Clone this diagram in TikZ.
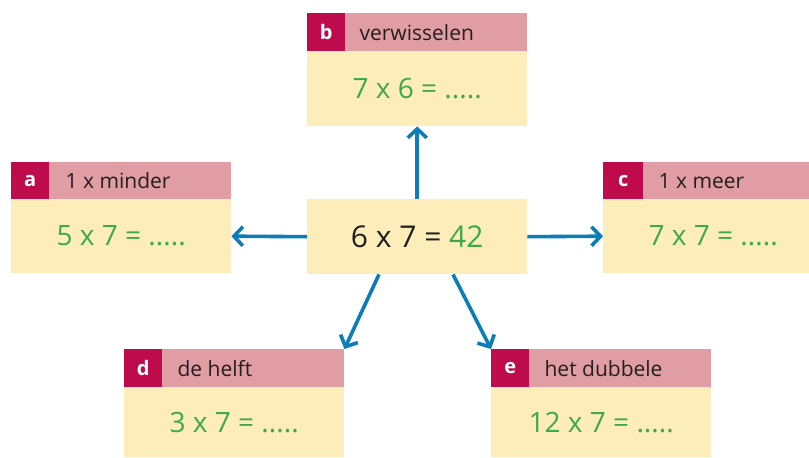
\documentclass[tikz,border=0pt]{standalone}
\usepackage{fontspec}
\setmainfont{Open Sans}
\usetikzlibrary{arrows.meta,calc}
\definecolor{hdr}{HTML}{E19DA4}
\definecolor{ltr}{HTML}{BE0B4B}
\definecolor{bodyc}{HTML}{FDEDBA}
\definecolor{grn}{HTML}{3EA94B}
\definecolor{blu}{HTML}{0B7DB8}
\definecolor{ink}{HTML}{231F20}
\begin{document}
\begin{tikzpicture}[x=1pt,y=-1pt,
  head/.style={fill=hdr, draw=none, minimum width=220pt, minimum height=38pt, inner sep=0pt, anchor=north west},
  letter/.style={fill=ltr, draw=none, minimum width=38pt, minimum height=38pt, inner sep=0pt, anchor=north west, text=white, font=\fontsize{20}{22}\selectfont\bfseries},
  htext/.style={anchor=west, inner sep=0pt, text=ink, font=\fontsize{21}{23}\selectfont},
  body/.style={fill=bodyc, draw=none, minimum width=220pt, minimum height=75pt, inner sep=0pt, anchor=north west, text=grn, font=\fontsize{28}{30}\selectfont},
  arr/.style={draw=blu, line width=3.6pt, -{Straight Barb[length=9pt,width=19pt,line width=3.6pt]}}
]
\useasboundingbox (0,0) rectangle (809,458);
\clip (0,0) rectangle (809,458);

% centre
\node[body, text=ink, font=\fontsize{30}{32}\selectfont] (ctr) at (307,199) {6 x 7 = \textcolor{grn}{42}};

% a
\node[head, minimum height=37pt] (ah) at (11,162) {};
\node[letter, minimum height=37pt] (al) at (ah.north west) {a};
\node[htext] (at) at ($(al.east)+(16,0)$) {1 x minder};
\node[body, minimum height=74pt] (ab) at (11,199) {5 x 7 = .....};

% b
\node[head] (bh) at (307,13) {};
\node[letter] (bl) at (bh.north west) {b};
\node[htext] (bt) at ($(bl.east)+(14,0)$) {verwisselen};
\node[body] (bb) at (307,51) {7 x 6 = .....};

% c
\node[head, minimum height=37pt] (ch) at (603,162) {};
\node[letter, minimum height=37pt, minimum width=40pt] (cl) at (ch.north west) {c};
\node[htext] (ct) at ($(cl.east)+(15,0)$) {1 x meer};
\node[body, minimum height=74pt] (cb) at (603,199) {7 x 7 = .....};

% d
\node[head] (dh) at (124,349) {};
\node[letter] (dl) at (dh.north west) {d};
\node[htext] (dt) at ($(dl.east)+(15,0)$) {de helft};
\node[body, minimum height=70pt] (db) at (124,387) {3 x 7 = .....};

% e
\node[head] (eh) at (491,349) {};
\node[letter] (el) at (eh.north west) {e};
\node[htext] (et) at ($(el.east)+(15,0)$) {het dubbele};
\node[body, minimum height=70pt] (eb) at (491,387) {12 x 7 = .....};

% arrows
\draw[arr] (ctr.north) -- (bb.south);
\draw[arr] (ctr.west) -- (ab.east);
\draw[arr] (ctr.east) -- (cb.west);
\draw[arr] ($(ctr.south west)+(72,0)$) -- (dh.north east);
\draw[arr] ($(ctr.south west)+(146,0)$) -- (eh.north west);
\end{tikzpicture}
\end{document}
